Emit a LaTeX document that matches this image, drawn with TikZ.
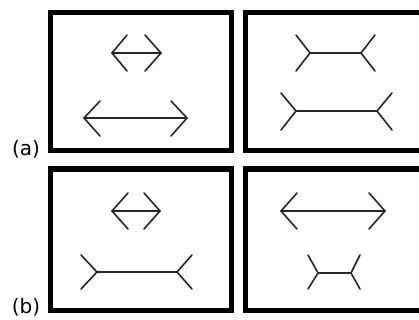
\documentclass[tikz,border=0pt]{standalone}
\usepackage{fontspec}
\setmainfont{DejaVu Sans}
\begin{document}
\begin{tikzpicture}[x=1pt,y=-1pt,
  frame/.style={draw=black,line width=5pt},
  fig/.style={draw=black!85,line width=1.6pt,line cap=round,line join=round},
  lbl/.style={font=\fontsize{20}{24}\selectfont,inner sep=0pt}]
\useasboundingbox (0,0) rectangle (419,320);
\clip (0,0) rectangle (419,320);
% frames
\draw[frame] (50,13) rectangle (231,151);
\draw[frame] (245,12.5) rectangle (430,151);
\draw[frame] (50,169) rectangle (231,310);
\draw[frame] (245,169) rectangle (430,310);
% panel a-left: arrows
\draw[fig] (112,53) -- (161,53);
\draw[fig] (127,35) -- (112,53) -- (127,71);
\draw[fig] (145,35) -- (161,53) -- (145,71);
\draw[fig] (84,118) -- (187,118);
\draw[fig] (100,101) -- (84,118) -- (100,136);
\draw[fig] (171,101) -- (187,118) -- (171,136);
% panel a-right: fins
\draw[fig] (310,53) -- (361,53);
\draw[fig] (296,35) -- (310,53) -- (296,71);
\draw[fig] (375,35) -- (361,53) -- (375,71);
\draw[fig] (296,111) -- (377,111);
\draw[fig] (281,93) -- (296,111) -- (281,130);
\draw[fig] (392,93) -- (377,111) -- (392,130);
% panel b-left
\draw[fig] (112,211) -- (160,211);
\draw[fig] (128,193) -- (112,211) -- (128,229);
\draw[fig] (144,193) -- (160,211) -- (144,229);
\draw[fig] (97,272) -- (177,272);
\draw[fig] (81,255) -- (97,272) -- (81,289);
\draw[fig] (192,255) -- (177,272) -- (192,289);
% panel b-right
\draw[fig] (281,211) -- (385,211);
\draw[fig] (297,193) -- (281,211) -- (297,229);
\draw[fig] (369,193) -- (385,211) -- (369,229);
\draw[fig] (318,273) -- (351,273);
\draw[fig] (308,255) -- (318,273) -- (308,289);
\draw[fig] (360,255) -- (351,273) -- (360,289);
% labels
\node[lbl] (la) at (26,149) {(a)};
\node[lbl] (lb) at (26,307) {(b)};
\end{tikzpicture}
\end{document}
